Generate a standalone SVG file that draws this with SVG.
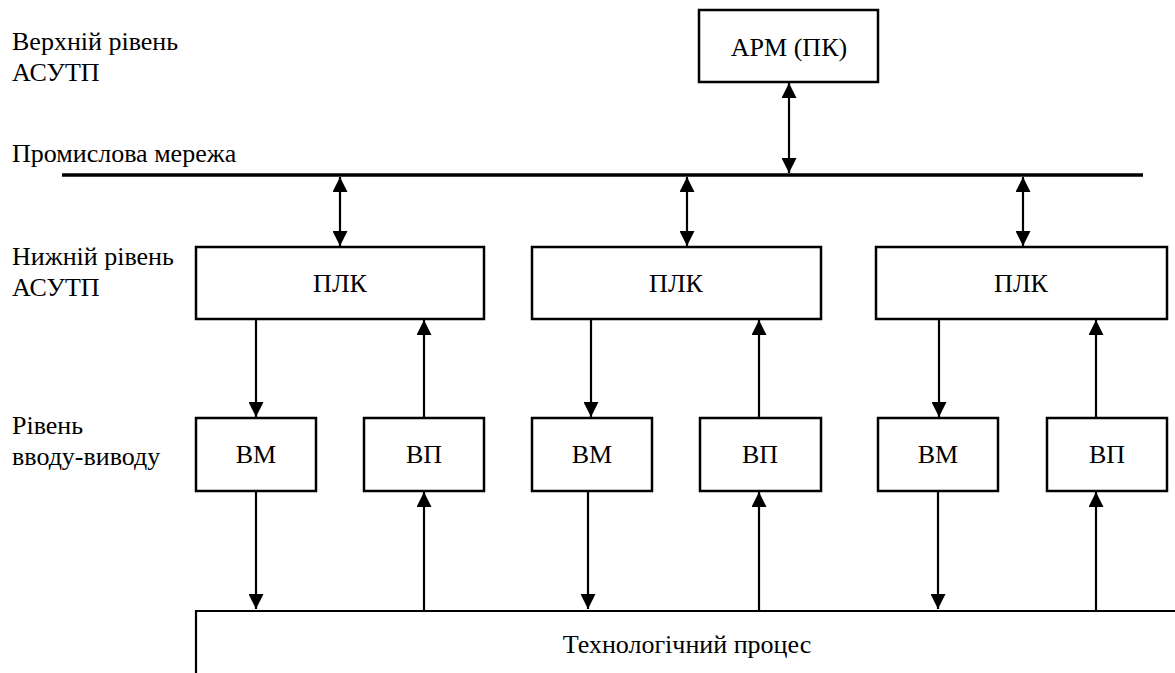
<svg xmlns="http://www.w3.org/2000/svg" width="1175" height="673" viewBox="0 0 1175 673">
<style>
.box{fill:#fff;stroke:#000;stroke-width:2.5}
.c{text-anchor:middle}
.ln{stroke:#000;stroke-width:2.2;fill:none}
.a1{marker-end:url(#ah)}
.a2{marker-start:url(#ah);marker-end:url(#ah)}
</style>
<defs>
<marker id="ah" markerUnits="userSpaceOnUse" markerWidth="15" markerHeight="15" viewBox="0 0 15 15" refX="15" refY="7.5" orient="auto-start-reverse">
<path d="M0,0 L15,7.5 L0,15 z" fill="#000"/>
</marker>
</defs>
<rect width="1175" height="673" fill="#fff"/>
<g font-family="Liberation Serif" font-size="26px" fill="#000">
<g id="labels">
<text x="12" y="50">Верхній рівень</text>
<text x="12" y="81">АСУТП</text>
<text x="12" y="162">Промислова мережа</text>
<text x="12" y="265">Нижній рівень</text>
<text x="12" y="296">АСУТП</text>
<text x="12" y="434">Рівень</text>
<text x="12" y="465">вводу-виводу</text>
</g>
<g id="bus"><line x1="62" y1="175" x2="1143" y2="175" stroke="#000" stroke-width="3.5"/></g>
<g id="arm"><rect class="box" x="699" y="10" width="179" height="72"/><text class="c" x="789" y="56">АРМ (ПК)</text></g>
<g id="plc1"><rect class="box" x="196" y="247" width="288" height="72"/><text class="c" x="340" y="292">ПЛК</text></g>
<g id="plc2"><rect class="box" x="532" y="247" width="289" height="72"/><text class="c" x="676" y="292">ПЛК</text></g>
<g id="plc3"><rect class="box" x="876" y="247" width="291" height="72"/><text class="c" x="1021" y="292">ПЛК</text></g>
<g id="vm1"><rect class="box" x="196" y="418" width="120" height="73"/><text class="c" x="256" y="463">ВМ</text></g>
<g id="vp1"><rect class="box" x="364" y="418" width="120" height="73"/><text class="c" x="424" y="463">ВП</text></g>
<g id="vm2"><rect class="box" x="532" y="418" width="120" height="73"/><text class="c" x="592" y="463">ВМ</text></g>
<g id="vp2"><rect class="box" x="700" y="418" width="121" height="73"/><text class="c" x="760" y="463">ВП</text></g>
<g id="vm3"><rect class="box" x="878" y="418" width="120" height="73"/><text class="c" x="938" y="463">ВМ</text></g>
<g id="vp3"><rect class="box" x="1047" y="418" width="120" height="73"/><text class="c" x="1107" y="463">ВП</text></g>
<g id="process"><path class="ln" stroke-width="2.5" d="M196,673 V611 H1175"/><text class="c" x="687" y="653">Технологічний процес</text></g>
</g>
<g id="connectors">
<line class="ln a2" x1="789" y1="83" x2="789" y2="173"/>
<line class="ln a2" x1="340" y1="177" x2="340" y2="246"/>
<line class="ln a2" x1="687" y1="177" x2="687" y2="246"/>
<line class="ln a2" x1="1023" y1="177" x2="1023" y2="246"/>
<line class="ln a1" x1="256" y1="320" x2="256" y2="417"/>
<line class="ln a1" x1="591" y1="320" x2="591" y2="417"/>
<line class="ln a1" x1="939" y1="320" x2="939" y2="417"/>
<line class="ln a1" x1="424" y1="417" x2="424" y2="320"/>
<line class="ln a1" x1="759" y1="417" x2="759" y2="320"/>
<line class="ln a1" x1="1096" y1="417" x2="1096" y2="320"/>
<line class="ln a1" x1="256" y1="492" x2="256" y2="609"/>
<line class="ln a1" x1="588" y1="492" x2="588" y2="609"/>
<line class="ln a1" x1="938" y1="492" x2="938" y2="609"/>
<line class="ln a1" x1="424" y1="610" x2="424" y2="492"/>
<line class="ln a1" x1="759" y1="610" x2="759" y2="492"/>
<line class="ln a1" x1="1096" y1="610" x2="1096" y2="492"/>
</g>
</svg>
